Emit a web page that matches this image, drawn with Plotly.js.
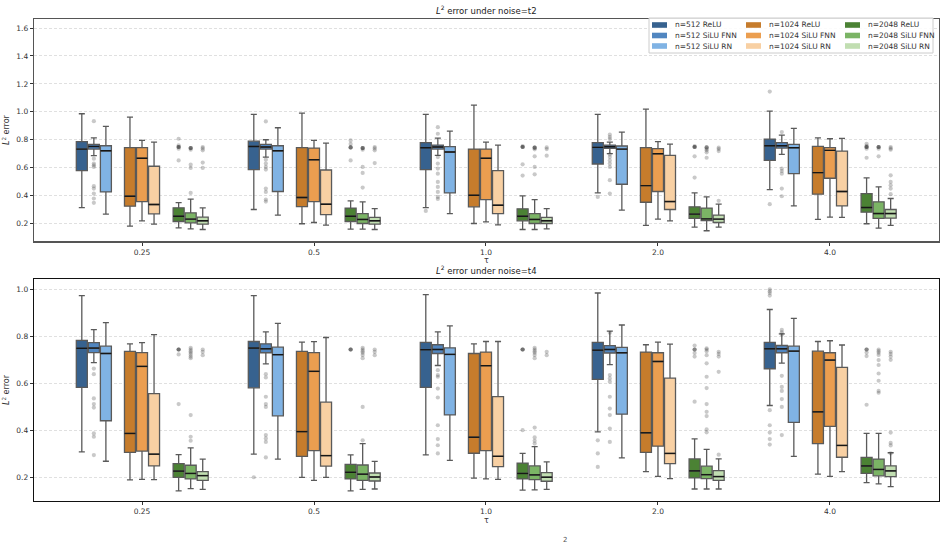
<!DOCTYPE html>
<html>
<head>
<meta charset="utf-8">
<script src="https://cdn.plot.ly/plotly-3.0.1.min.js"></script>
<style>html,body{margin:0;padding:0;background:#fff;}#chart{width:946px;height:548px;}</style>
</head>
<body>
<div id="chart"></div>
<script>
// ---------------- DATA ----------------
const tauLabels = ["0.25", "0.5", "1.0", "2.0", "4.0"];
const groupNames = ["n=512 ReLU", "n=512 SiLU FNN", "n=512 SiLU RN",
                    "n=1024 ReLU", "n=1024 SiLU FNN", "n=1024 SiLU RN",
                    "n=2048 ReLU", "n=2048 SiLU FNN", "n=2048 SiLU RN"];
const groupColors = ["#37628f", "#5186c0", "#80b3e4",
                     "#c67c2c", "#eb9e50", "#f8d0a3",
                     "#4b8234", "#7bb465", "#c1deb1"];

// noise = t2 (top panel): per group, per tau
const t2Upper = [[0.986,0.981,0.981,0.981,1.005],[0.814,0.800,0.812,0.783,0.833],[0.895,0.886,0.862,0.855,0.881],
                 [0.962,0.990,1.048,1.019,0.814],[0.795,0.795,0.783,0.786,0.807],[0.783,0.776,0.762,0.769,0.810],
                 [0.350,0.362,0.398,0.419,0.526],[0.374,0.355,0.371,0.390,0.462],[0.312,0.307,0.307,0.338,0.379]];
const t2Q3 = [[0.786,0.790,0.779,0.779,0.805],[0.767,0.767,0.762,0.762,0.779],[0.757,0.757,0.750,0.755,0.767],
              [0.743,0.743,0.733,0.743,0.752],[0.743,0.740,0.733,0.736,0.743],[0.610,0.583,0.579,0.688,0.719],
              [0.312,0.310,0.305,0.319,0.414],[0.276,0.271,0.271,0.310,0.355],[0.245,0.243,0.243,0.260,0.300]];
const t2Median = [[0.733,0.752,0.743,0.745,0.757],[0.752,0.748,0.748,0.750,0.757],[0.721,0.721,0.712,0.733,0.743],
                  [0.395,0.386,0.402,0.471,0.564],[0.667,0.657,0.667,0.700,0.724],[0.336,0.338,0.331,0.357,0.429],
                  [0.252,0.252,0.252,0.267,0.314],[0.231,0.229,0.229,0.233,0.271],[0.219,0.219,0.219,0.231,0.271]];
const t2Q1 = [[0.579,0.586,0.586,0.626,0.652],[0.733,0.733,0.733,0.738,0.740],[0.426,0.429,0.419,0.481,0.557],
              [0.324,0.321,0.319,0.352,0.410],[0.357,0.357,0.371,0.429,0.524],[0.269,0.264,0.271,0.300,0.326],
              [0.214,0.214,0.219,0.236,0.281],[0.205,0.200,0.200,0.221,0.236],[0.195,0.195,0.200,0.207,0.238]];
const t2Lower = [[0.314,0.300,0.314,0.419,0.443],[0.686,0.676,0.688,0.700,0.695],[0.267,0.260,0.271,0.295,0.326],
                 [0.181,0.198,0.200,0.186,0.229],[0.219,0.207,0.212,0.231,0.245],[0.195,0.188,0.190,0.219,0.243],
                 [0.169,0.160,0.157,0.174,0.198],[0.162,0.160,0.157,0.148,0.167],[0.157,0.157,0.162,0.174,0.186]];
const t2Outliers = [
  [[], [], [0.29], [0.39], [1.145,0.338]],
  [[0.933,0.664,0.629,0.617,0.605,0.467,0.45,0.414,0.379,0.348],
   [0.931,0.657,0.629,0.605,0.586,0.45,0.426,0.371,0.357],
   [0.89,0.843,0.676,0.629,0.593,0.557,0.498,0.462,0.426,0.39,0.376],
   [0.836,0.819,0.805,0.695,0.676,0.652,0.629,0.605,0.51,0.414],
   [0.855,0.593,0.576,0.557,0.45,0.395]],
  [[], [], [], [], []],
  [[], [], [], [], []],
  [[], [], [], [], []],
  [[], [], [], [], []],
  [[0.807,0.76,0.748,0.748,0.748,0.748,0.736,0.652],
   [0.795,0.77,0.745,0.745,0.745,0.745,0.652],
   [0.755,0.748,0.748,0.748,0.748,0.624,0.543],
   [0.755,0.748,0.748,0.748,0.748,0.681,0.529],
   [0.771,0.757,0.748,0.748,0.748,0.748,0.736,0.671]],
  [[0.74,0.74,0.74,0.74,0.729,0.621,0.598,0.419],
   [0.74,0.74,0.74,0.74,0.729,0.605,0.562,0.457],
   [0.743,0.743,0.743,0.743,0.731,0.681,0.605,0.552],
   [0.745,0.745,0.745,0.733,0.724,0.71,0.671],
   [0.748,0.748,0.748,0.748,0.736,0.681]],
  [[0.748,0.738,0.724,0.636,0.598],
   [0.748,0.738,0.724,0.633],
   [0.745,0.733,0.686],
   [0.743,0.733,0.719,0.362],
   [0.748,0.738,0.729,0.545,0.498,0.474,0.45,0.41]]
];

// noise = t4 (bottom panel)
const t4Upper = [[0.972,0.972,0.976,0.983,0.913],[0.827,0.818,0.818,0.821,0.809],[0.857,0.854,0.843,0.847,0.875],
                 [0.767,0.774,0.767,0.763,0.777],[0.772,0.776,0.777,0.774,0.780],[0.806,0.794,0.777,0.766,0.762],
                 [0.296,0.295,0.301,0.363,0.386],[0.325,0.343,0.330,0.318,0.386],[0.277,0.267,0.265,0.278,0.304]];
const t4Q3 = [[0.782,0.777,0.773,0.773,0.773],[0.772,0.767,0.763,0.759,0.760],[0.757,0.753,0.750,0.752,0.757],
              [0.735,0.735,0.726,0.732,0.736],[0.730,0.730,0.732,0.729,0.729],[0.555,0.519,0.543,0.621,0.667],
              [0.258,0.255,0.260,0.278,0.284],[0.251,0.252,0.248,0.247,0.277],[0.224,0.218,0.220,0.228,0.248]];
const t4Median = [[0.748,0.749,0.742,0.740,0.746],[0.749,0.746,0.743,0.743,0.746],[0.726,0.721,0.722,0.729,0.736],
                  [0.386,0.394,0.370,0.389,0.478],[0.671,0.650,0.674,0.692,0.698],[0.298,0.292,0.289,0.301,0.335],
                  [0.226,0.221,0.216,0.227,0.248],[0.216,0.213,0.210,0.211,0.233],[0.207,0.201,0.200,0.203,0.227]];
const t4Q1 = [[0.582,0.580,0.582,0.616,0.661],[0.730,0.729,0.726,0.728,0.729],[0.440,0.461,0.465,0.468,0.433],
              [0.306,0.289,0.302,0.306,0.343],[0.311,0.313,0.313,0.332,0.416],[0.248,0.247,0.245,0.258,0.285],
              [0.199,0.193,0.193,0.197,0.216],[0.193,0.187,0.190,0.194,0.206],[0.187,0.184,0.183,0.187,0.203]];
const t4Lower = [[0.308,0.298,0.295,0.393,0.505],[0.687,0.682,0.675,0.679,0.685],[0.268,0.277,0.272,0.282,0.289],
                 [0.189,0.199,0.196,0.224,0.213],[0.191,0.187,0.193,0.204,0.204],[0.190,0.199,0.191,0.194,0.224],
                 [0.142,0.142,0.145,0.150,0.177],[0.152,0.148,0.146,0.150,0.172],[0.148,0.150,0.148,0.150,0.160]];
const t4Outliers = [
  [[], [0.2], [], [0.357,0.301,0.244], [0.999,0.99,0.983,0.972,0.485,0.421,0.39,0.362,0.339]],
  [[0.662,0.638,0.535,0.511,0.496,0.386,0.372,0.294],
   [0.638,0.624,0.542,0.511,0.499,0.379,0.365,0.35,0.284],
   [0.655,0.634,0.627,0.577,0.539,0.421,0.362,0.336,0.301],
   [0.814,0.634,0.62,0.606,0.542,0.492,0.464,0.407,0.35],
   [0.826,0.816,0.806,0.631,0.584,0.567,0.532,0.499,0.379]],
  [[], [], [], [], []],
  [[], [], [], [], []],
  [[], [], [], [], []],
  [[], [], [], [], []],
  [[0.743,0.743,0.743,0.743,0.722,0.511],
   [0.743,0.743,0.743,0.743],
   [0.743,0.743,0.743,0.743,0.4],
   [0.76,0.743,0.743,0.743,0.728,0.713,0.521],
   [0.743,0.743,0.743,0.73,0.715,0.508]],
  [[0.75,0.743,0.736,0.729,0.722,0.713,0.706,0.464,0.372,0.355],
   [0.75,0.743,0.736,0.729,0.72,0.706,0.499,0.357],
   [0.75,0.743,0.736,0.729,0.72,0.706,0.411,0.369,0.355,0.343],
   [0.748,0.743,0.736,0.719,0.684,0.627,0.579,0.511,0.478,0.46,0.403,0.391],
   [0.743,0.736,0.729,0.72,0.698,0.677,0.641,0.61,0.567,0.559]],
  [[0.743,0.733,0.719],
   [0.743,0.733,0.719],
   [0.733,0.719],
   [0.733,0.724,0.713,0.648,0.296],
   [0.733,0.724,0.713,0.699,0.39,0.346,0.335,0.301]]
];

// ---------------- BUILD ----------------
const W = 946, H = 548;
const M = {l: 34, r: 7, t: 19, b: 47};
const PW = W - M.l - M.r, PH = H - M.t - M.b;
const px2x = p => (p - M.l) / PW;         // pixel -> paper x
const px2y = p => (H - M.b - p) / PH;     // pixel -> paper y

const clusterOffset = [-0.28, 0, 0.283];
const subOffset = [-0.07, 0, 0.07];
const BOXW = 0.064;

function pos(g) {
  return tauLabels.map((_, i) => i + clusterOffset[Math.floor(g / 3)] + subOffset[g % 3]);
}

const traces = [];
function addPanel(upper, q3, med, q1, lower, outl, xa, ya) {
  const mx = [], my = [];
  for (let g = 0; g < 9; g++) {
    const xs = pos(g);
    traces.push({
      type: 'box', orientation: 'v', x: xs, xaxis: xa, yaxis: ya,
      q1: q1[g], median: med[g], q3: q3[g], lowerfence: lower[g], upperfence: upper[g],
      name: groupNames[g], showlegend: false,
      width: BOXW, whiskerwidth: 0.55,
      fillcolor: groupColors[g], line: {color: '#5a5a5a', width: 1.3},
      boxpoints: false, hoverinfo: 'skip'
    });
    xs.forEach((x, i) => { mx.push(x - BOXW / 2, x + BOXW / 2, null); my.push(med[g][i], med[g][i], null); });
    const ox = [], oy = [];
    outl[g].forEach((arr, i) => arr.forEach(v => { ox.push(xs[i]); oy.push(v); }));
    if (ox.length) {
      traces.push({
        type: 'scatter', mode: 'markers', x: ox, y: oy, xaxis: xa, yaxis: ya,
        showlegend: false, hoverinfo: 'skip',
        marker: {color: 'rgba(60,60,60,0.28)', size: 4.2, line: {width: 0}}
      });
    }
  }
  // median lines drawn darker on top, as in the reference
  traces.push({
    type: 'scatter', mode: 'lines', x: mx, y: my, xaxis: xa, yaxis: ya,
    showlegend: false, hoverinfo: 'skip', line: {color: '#161616', width: 1.4}
  });
}
addPanel(t2Upper, t2Q3, t2Median, t2Q1, t2Lower, t2Outliers, 'x', 'y');
addPanel(t4Upper, t4Q3, t4Median, t4Q1, t4Lower, t4Outliers, 'x2', 'y2');

const FONT = 'DejaVu Sans, sans-serif';
const tickFont = {family: FONT, size: 7.5, color: '#333'};
function xaxisCfg(anchor, lc) {
  return {
    anchor: anchor, domain: [0, 1], range: [-0.628, 4.634],
    tickmode: 'array', tickvals: tauLabels.map((_, i) => i), ticktext: tauLabels,
    showgrid: false, zeroline: false, ticks: 'outside', ticklen: 3, tickcolor: '#333',
    showline: true, mirror: true, linecolor: lc, linewidth: 1.3,
    tickfont: tickFont,
    title: {text: 'τ', font: {family: FONT, size: 8, color: '#333'}, standoff: 1}
  };
}
function yaxisCfg(anchor, domain, range, lc) {
  return {
    anchor: anchor, domain: domain, range: range,
    tick0: 0.2, dtick: 0.2, tickformat: '.1f',
    showgrid: true, gridcolor: '#d8d8d8', griddash: '3px,2px', gridwidth: 0.8,
    zeroline: false, ticks: 'outside', ticklen: 3, tickcolor: '#333',
    showline: true, mirror: true, linecolor: lc, linewidth: 1.3,
    tickfont: tickFont,
    title: {text: '<i>L</i><sup>2</sup> error', font: {family: FONT, size: 8, color: '#333'}, standoff: 5}
  };
}

// ---- legend (3 columns x 3 rows, column = sample size) ----
const legBox = {x0: 649, x1: 933, y0: 18, y1: 53};
const legColX = [652, 746, 845];
const legRowY = [25, 35.5, 46];
const shapes = [{
  type: 'rect', xref: 'paper', yref: 'paper', layer: 'above',
  x0: px2x(legBox.x0), x1: px2x(legBox.x1), y0: px2y(legBox.y1), y1: px2y(legBox.y0),
  fillcolor: 'rgba(255,255,255,0.85)', line: {color: '#cccccc', width: 1}
}];
const annotations = [];
groupNames.forEach((name, g) => {
  const cx = legColX[Math.floor(g / 3)], cy = legRowY[g % 3];
  shapes.push({
    type: 'rect', xref: 'paper', yref: 'paper', layer: 'above',
    x0: px2x(cx), x1: px2x(cx + 15), y0: px2y(cy + 2.8), y1: px2y(cy - 2.8),
    fillcolor: groupColors[g], line: {width: 0}
  });
  annotations.push({
    text: name, xref: 'paper', yref: 'paper', x: px2x(cx + 21), y: px2y(cy),
    xanchor: 'left', yanchor: 'middle', showarrow: false,
    font: {family: FONT, size: 7.5, color: '#333'}
  });
});
annotations.push(
  {text: '<i>L</i><sup>2</sup> error under noise=t2', xref: 'paper', yref: 'paper', x: 0.5, y: 1,
   xanchor: 'center', yanchor: 'bottom', yshift: 1, showarrow: false,
   font: {family: FONT, size: 8.5, color: '#222'}},
  {text: '<i>L</i><sup>2</sup> error under noise=t4', xref: 'paper', yref: 'paper', x: 0.5, y: 0.4606,
   xanchor: 'center', yanchor: 'bottom', yshift: 1, showarrow: false,
   font: {family: FONT, size: 8.5, color: '#222'}},
  {text: '2', xref: 'paper', yref: 'paper', x: px2x(565), y: px2y(534),
   xanchor: 'center', yanchor: 'top', showarrow: false,
   font: {family: FONT, size: 7, color: '#555'}}
);

const layout = {
  width: W, height: H, margin: M,
  paper_bgcolor: '#fff', plot_bgcolor: '#fff',
  font: {family: FONT, color: '#333'},
  boxmode: 'overlay', showlegend: false,
  xaxis: xaxisCfg('y', '#555'),
  yaxis: yaxisCfg('x', [0.539, 1], [0.073, 1.665], '#555'),
  xaxis2: xaxisCfg('y2', '#111'),
  yaxis2: yaxisCfg('x2', [0, 0.4606], [0.099, 1.0426], '#111'),
  shapes: shapes,
  annotations: annotations
};

Plotly.newPlot('chart', traces, layout, {displayModeBar: false, staticPlot: true});
</script>
</body>
</html>
